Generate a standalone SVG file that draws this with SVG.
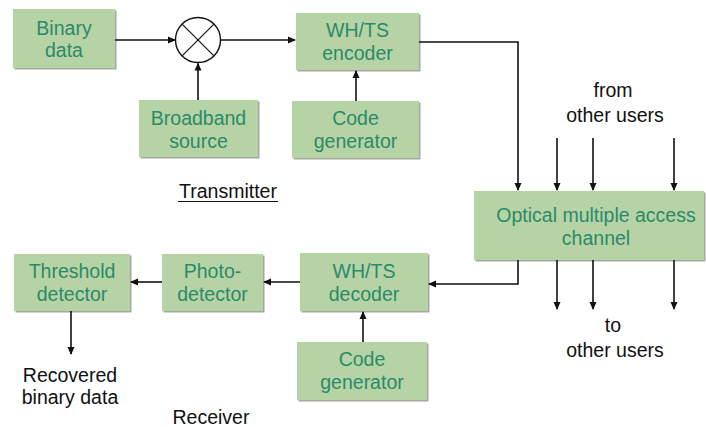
<svg xmlns="http://www.w3.org/2000/svg" width="706" height="427" viewBox="0 0 706 427">
<defs>
<marker id="ah" markerWidth="8" markerHeight="8" refX="7" refY="4" orient="auto" markerUnits="userSpaceOnUse">
<path d="M0,0.5 L8,4 L0,7.5 Z" fill="#111"/>
</marker>
</defs>
<style>
.box{fill:#b6d3a6;}
.sh{fill:#a7a7a0;}
.gt{font-family:"Liberation Sans",Arial,sans-serif;font-size:19.5px;fill:#2b8a68;text-anchor:middle;}
.bt{font-family:"Liberation Sans",Arial,sans-serif;font-size:19.5px;fill:#111;text-anchor:middle;}
.ln{stroke:#111;stroke-width:1.6;fill:none;}
.ar{stroke:#111;stroke-width:1.6;fill:none;marker-end:url(#ah);}
</style>
<rect width="706" height="427" fill="#fff"/>
<g id="binary-data">
<rect class="sh" x="14.5" y="10.5" width="102" height="59"/>
<rect class="box" x="13" y="9" width="102" height="59"/>
<text class="gt" x="64" y="35">Binary</text>
<text class="gt" x="64" y="57">data</text>
</g>
<g id="mixer">
<circle cx="198" cy="40" r="22.5" fill="#fff" stroke="#111" stroke-width="1.4"/>
<path d="M182.1,24.1 L213.9,55.9 M213.9,24.1 L182.1,55.9" stroke="#111" stroke-width="1.2"/>
</g>
<g id="wh-ts-encoder">
<rect class="sh" x="297.5" y="14.5" width="123" height="57"/>
<rect class="box" x="296" y="13" width="123" height="57"/>
<text class="gt" x="357.5" y="37">WH/TS</text>
<text class="gt" x="357.5" y="60">encoder</text>
</g>
<g id="broadband-source">
<rect class="sh" x="140.5" y="101.5" width="119" height="57"/>
<rect class="box" x="139" y="100" width="119" height="57"/>
<text class="gt" x="198.5" y="125">Broadband</text>
<text class="gt" x="198.5" y="148">source</text>
</g>
<g id="code-generator-tx">
<rect class="sh" x="293.5" y="102.5" width="127" height="57"/>
<rect class="box" x="292" y="101" width="127" height="57"/>
<text class="gt" x="355.5" y="125">Code</text>
<text class="gt" x="355.5" y="148">generator</text>
</g>
<g id="transmitter-label">
<text class="bt" x="228" y="198">Transmitter</text>
<line x1="178" y1="201.5" x2="278" y2="201.5" stroke="#111" stroke-width="1.2"/>
</g>
<g id="optical-channel">
<rect class="sh" x="475.5" y="192.5" width="230" height="69"/>
<rect class="box" x="474" y="191" width="230" height="69"/>
<text class="gt" x="596" y="222">Optical multiple access</text>
<text class="gt" x="596" y="245">channel</text>
</g>
<g id="from-label">
<text class="bt" x="613" y="97">from</text>
<text class="bt" x="615" y="122">other users</text>
</g>
<g id="to-label">
<text class="bt" x="613" y="332">to</text>
<text class="bt" x="615" y="357">other users</text>
</g>
<g id="threshold-detector">
<rect class="sh" x="15.5" y="255.5" width="116" height="57"/>
<rect class="box" x="14" y="254" width="116" height="57"/>
<text class="gt" x="72" y="278">Threshold</text>
<text class="gt" x="72" y="301">detector</text>
</g>
<g id="photo-detector">
<rect class="sh" x="163.5" y="255.5" width="101" height="57"/>
<rect class="box" x="162" y="254" width="101" height="57"/>
<text class="gt" x="212.5" y="278">Photo-</text>
<text class="gt" x="212.5" y="301">detector</text>
</g>
<g id="wh-ts-decoder">
<rect class="sh" x="301.5" y="254.5" width="128" height="58"/>
<rect class="box" x="300" y="253" width="128" height="58"/>
<text class="gt" x="364" y="278">WH/TS</text>
<text class="gt" x="364" y="301">decoder</text>
</g>
<g id="code-generator-rx">
<rect class="sh" x="298.5" y="343.5" width="130" height="58"/>
<rect class="box" x="297" y="342" width="130" height="58"/>
<text class="gt" x="362" y="366">Code</text>
<text class="gt" x="362" y="389">generator</text>
</g>
<g id="recovered-label">
<text class="bt" x="70" y="382">Recovered</text>
<text class="bt" x="70" y="404">binary data</text>
</g>
<g id="receiver-label">
<text class="bt" x="211" y="424">Receiver</text>
</g>
<g id="connectors">
<line class="ar" x1="115" y1="40" x2="175" y2="40"/>
<line class="ar" x1="220.5" y1="40" x2="295" y2="40"/>
<line class="ar" x1="198" y1="100" x2="198" y2="63.5"/>
<line class="ar" x1="356" y1="101" x2="356" y2="71"/>
<polyline class="ar" points="419,42 518,42 518,190"/>
<line class="ar" x1="557" y1="138" x2="557" y2="190"/>
<line class="ar" x1="593" y1="138" x2="593" y2="190"/>
<line class="ar" x1="674" y1="138" x2="674" y2="190"/>
<line class="ar" x1="557" y1="260" x2="557" y2="309"/>
<line class="ar" x1="593" y1="260" x2="593" y2="309"/>
<line class="ar" x1="674" y1="260" x2="674" y2="309"/>
<polyline class="ar" points="518,260 518,284 429,284"/>
<line class="ar" x1="300" y1="282" x2="264" y2="282"/>
<line class="ar" x1="162" y1="282" x2="131" y2="282"/>
<line class="ar" x1="363" y1="342" x2="363" y2="312"/>
<line class="ar" x1="71" y1="311" x2="71" y2="354"/>
</g>
</svg>
